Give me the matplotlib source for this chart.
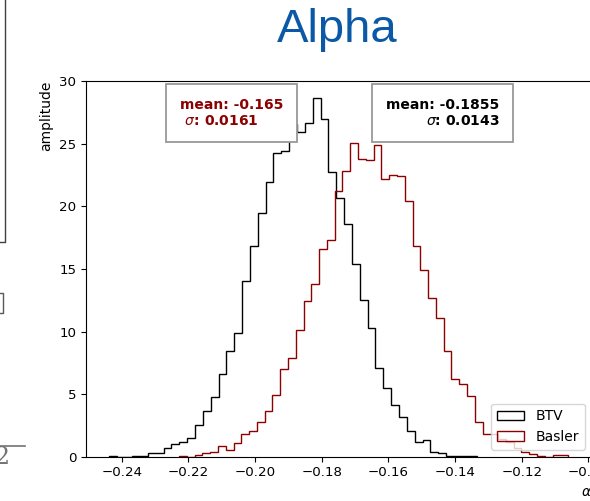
import numpy as np
import matplotlib
matplotlib.use("Agg")
import matplotlib.pyplot as plt
from matplotlib.lines import Line2D

# ---------------- data ----------------
btv_range = (-0.2439, -0.1333)
btv_density = [0.04, 0.0, 0.0, 0.04,
               0.08, 0.27, 0.27, 0.69, 1.05, 1.14, 1.50, 2.50, 3.62, 4.81,
               6.59, 8.45, 9.91, 14.06, 16.84, 19.51, 21.95, 24.30, 24.43, 26.61,
               25.92, 26.69, 28.65, 26.95, 22.75, 20.65, 18.60, 15.37, 12.52, 10.31,
               7.07, 5.48, 4.15, 3.14, 2.02, 1.17, 1.30, 0.40, 0.30, 0.05,
               0.05, 0.02, 0.08]

basler_range = (-0.2228, -0.1061)
basler_density = [0.06, 0.0, 0.12, 0.28, 0.40, 0.82, 0.56, 1.12, 1.80, 2.02,
                  2.75, 3.67, 4.94, 7.00, 7.87, 10.15, 12.44, 13.77, 16.59, 17.35,
                  21.22, 22.83, 25.10, 23.76, 23.68, 24.88, 22.22, 22.54, 22.43, 20.44,
                  16.85, 14.90, 12.70, 11.12, 8.42, 6.24, 5.85, 4.89, 2.75, 1.82,
                  1.82, 1.41, 1.14, 0.69, 0.34, 0.24, 0.08, 0.0, 0.10, 0.10]

series_labels = ["BTV", "Basler"]
box_texts = ["mean: -0.165\n $\\sigma$: 0.0161", "mean: -0.1855\n$\\sigma$: 0.0143"]
x_ticks = [-0.24, -0.22, -0.20, -0.18, -0.16, -0.14, -0.12, -0.10]
y_ticks = [0, 5, 10, 15, 20, 25, 30]
title_text = "Alpha"

# ---------------- figure ----------------
W, H = 590, 501
fig = plt.figure(figsize=(W / 100, H / 100), dpi=100)
fig.patch.set_facecolor("white")

ax_l, ax_r, ax_t, ax_b = 86, 591.5, 80.7, 456.7
ax = fig.add_axes([ax_l / W, 1 - ax_b / H, (ax_r - ax_l) / W, (ax_b - ax_t) / H])

btv_edges = np.linspace(btv_range[0], btv_range[1], len(btv_density) + 1)
basler_edges = np.linspace(basler_range[0], basler_range[1], len(basler_density) + 1)

ax.hist(btv_edges[:-1], bins=btv_edges, weights=btv_density, histtype="step",
        color="black", lw=1.0, label=series_labels[0])
ax.hist(basler_edges[:-1], bins=basler_edges, weights=basler_density, histtype="step",
        color="#8B0000", lw=1.0, label=series_labels[1])

ax.set_xlim(-0.2507, -0.0991)
ax.set_ylim(0, 30.05)
ax.set_xticks(x_ticks)
ax.set_yticks(y_ticks)
ax.set_xticklabels([f"{t:.2f}".replace("-", "\u2212") for t in x_ticks])
ax.tick_params(labelsize=9.6)

ax.set_ylabel("amplitude", loc="top", fontsize=10)
ax.set_xlabel("$\\alpha$", loc="right", fontsize=10)

ax.legend(loc="lower right", fontsize=10)

box_kw = dict(boxstyle="square,pad=1.0", fc="white", ec="0.6", lw=1.3)
ax.text(0.2878, 0.914, box_texts[0], transform=ax.transAxes, ha="center", va="center",
        multialignment="left", color="#8B0000", fontweight="bold", fontsize=10,
        bbox=box_kw)
ax.text(0.7052, 0.914, box_texts[1], transform=ax.transAxes, ha="center", va="center",
        multialignment="right", color="black", fontweight="bold", fontsize=10,
        bbox=box_kw)

# slide title
fig.text(337 / W, 1 - 30 / H, title_text, ha="center", va="center",
         fontsize=34, color="#0B59A6", family="Liberation Sans")

# left-edge slide remnants
def px_line(xs, ys, **kw):
    fig.add_artist(Line2D([x / W for x in xs], [1 - y / H for y in ys],
                          transform=fig.transFigure, **kw))

px_line([5, 5, -1], [-1, 242, 242], color="0.25", lw=1.0)
px_line([-1, 3, 3, -1], [293, 293, 313, 313], color="0.35", lw=1.0)
px_line([-1, 25], [446, 446], color="0.45", lw=1.2)
fig.text(-6 / W, 1 - 458 / H, "2", ha="left", va="center", fontsize=17,
         color="0.45", family="DejaVu Serif")

fig.savefig("out.png", dpi=100)
